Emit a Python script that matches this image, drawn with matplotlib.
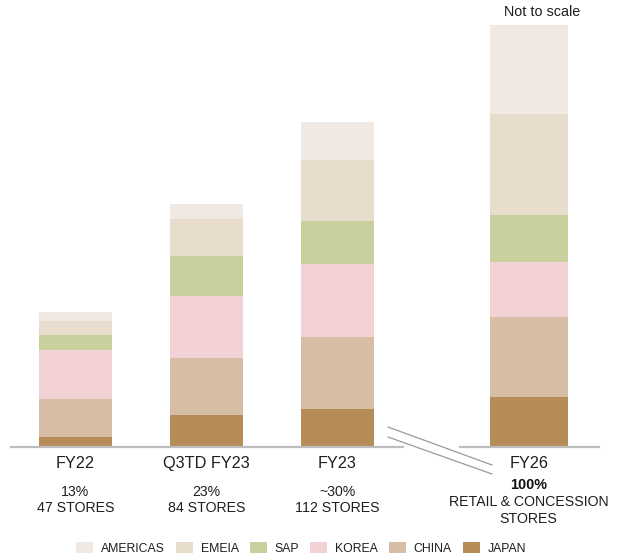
import matplotlib.pyplot as plt
from matplotlib.patches import Patch
from matplotlib.lines import Line2D
import matplotlib.transforms as mtransforms

plt.rcParams['font.family'] = ['Liberation Sans', 'DejaVu Sans']

# data (bar heights, FY26 total = 100, not to scale)
categories = ["FY22", "Q3TD FY23", "FY23", "FY26"]
regions = ["JAPAN", "CHINA", "KOREA", "SAP", "EMEIA", "AMERICAS"]
japan = [2.4, 7.5, 8.9, 11.8]
china = [9.0, 13.7, 17.2, 19.1]
korea = [11.7, 14.5, 17.2, 13.0]
sap = [3.4, 9.5, 10.2, 11.1]
emeia = [3.4, 8.9, 14.5, 23.9]
americas = [2.2, 3.5, 8.9, 21.1]
pct_labels = ["13%", "23%", "~30%", "100%"]
store_labels = ["47 STORES", "84 STORES", "112 STORES", "RETAIL & CONCESSION\nSTORES"]

series = [japan, china, korea, sap, emeia, americas]
colors = ["#B58C58", "#D5BDA6", "#F2D2D4", "#C8D19E", "#E8DDCD", "#F0E8E2"]

W, H = 626, 560
fig = plt.figure(figsize=(W / 100, H / 100), dpi=100)
ax = fig.add_axes([0, 0, 1, 1])
ax.axis('off')

# layout: x in category units (131 px each), y so baseline sits at 447 px
xpos = [0, 1, 2, 3.46]
widths = [0.557, 0.557, 0.557, 0.595]
pxu = 4.22
ax.set_xlim(-75.5 / 131, (W - 75.5) / 131)
ax.set_ylim(-(H - 447) / pxu, 447 / pxu)

bottom = [0, 0, 0, 0]
for vals, c in zip(series, colors):
    ax.bar(xpos, vals, width=widths, bottom=bottom, color=c, linewidth=0, zorder=2)
    bottom = [b + v for b, v in zip(bottom, vals)]

# baseline with break
ax.axhline(0, xmin=11 / W, xmax=403 / W, color="#BDBDBD", lw=1.6, zorder=3)
ax.axhline(0, xmin=460 / W, xmax=599 / W, color="#BDBDBD", lw=1.6, zorder=3)
for y0, y1 in [(427, 465), (437, 474)]:
    fig.add_artist(Line2D([388 / W, 492 / W], [1 - y0 / H, 1 - y1 / H],
                          color="#9A9A9A", lw=0.9))

txt = "#1e1e1e"
tr = mtransforms.blended_transform_factory(ax.transData, fig.transFigure)
for i, x in enumerate(xpos):
    ax.text(x, 1 - 463.5 / H, categories[i], transform=tr, ha='center', va='center',
            fontsize=11.7, color=txt)
    if i < 3:
        ax.text(x, 1 - 500 / H, pct_labels[i] + "\n" + store_labels[i], transform=tr,
                ha='center', va='center', fontsize=10.2, linespacing=1.2, color=txt)
    else:
        ax.text(x, 1 - 485 / H, pct_labels[i], transform=tr, ha='center', va='center',
                fontsize=10.4, fontweight='bold', color="#111111")
        ax.text(x, 1 - 510.5 / H, store_labels[i], transform=tr, ha='center', va='center',
                fontsize=10.2, linespacing=1.2, color=txt)

ax.text(542 / W, 1 - 12 / H, "Not to scale", transform=fig.transFigure,
        ha='center', va='center', fontsize=10.4, color=txt)

# legend
handles = [Patch(facecolor=c, edgecolor='none') for c in colors[::-1]]
fig.legend(handles, regions[::-1], loc='center', bbox_to_anchor=(301 / W, 1 - 548.5 / H),
           ncol=6, frameon=False, fontsize=8.8, handlelength=1.39, handleheight=0.9,
           handletextpad=0.65, columnspacing=0.9, borderaxespad=0, borderpad=0,
           labelcolor=txt)

plt.savefig("out.png", dpi=100)
